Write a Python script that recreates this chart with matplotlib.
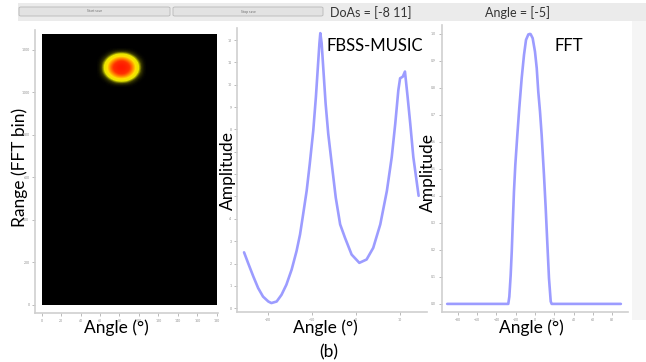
import numpy as np
import matplotlib
matplotlib.use("Agg")
import matplotlib.pyplot as plt
from matplotlib.colors import LinearSegmentedColormap
from matplotlib.patches import Rectangle, FancyBboxPatch

plt.rcParams['font.family'] = ['Lato', 'DejaVu Sans']

# --- data ---
doas = [-8, 11]
fft_angle_est = [-5]

# range-angle map: one target, coarse power grid around it
blob_angle = 82        # deg (0..180 axis)
blob_range = 1114      # FFT bin
blob_cell_angle = 5.5
blob_cell_range = 20
blob_power = [
    [0, 0, 0, 0, 0, 0, 0, 0, 0],
    [0, 0, .08, .24, .30, .24, .08, 0, 0],
    [0, .08, .38, .64, .72, .64, .38, .08, 0],
    [0, .24, .64, .84, .93, .84, .64, .24, 0],
    [0, .30, .72, .93, 1.0, .93, .72, .30, 0],
    [0, .24, .64, .84, .93, .84, .64, .24, 0],
    [0, .08, .38, .64, .72, .64, .38, .08, 0],
    [0, 0, .08, .24, .30, .24, .08, 0, 0],
    [0, 0, 0, 0, 0, 0, 0, 0, 0],
]
map_angle_ticks = list(range(0, 181, 20))
map_range_ticks = list(range(0, 1201, 200))

# FBSS-MUSIC pseudo spectrum
music_angle = [-25.4, -24.5, -23.3, -22.2, -21.1, -19.9, -19.2, -18.0, -16.9, -15.8,
               -14.6, -13.5, -12.7, -12.0, -11.2, -10.5, -9.7, -9.1, -8.7, -8.3,
               -8.1, -7.8, -7.4, -6.9, -6.3, -5.5, -4.6, -3.6, -2.5, -1.0,
               0.75, 2.4, 3.9, 5.5, 7.0, 8.1, 8.9, 9.6, 10.0, 10.6,
               11.1, 11.7, 12.3, 13.0, 14.2]
music_amp = [2.50, 2.03, 1.42, 0.90, 0.52, 0.30, 0.23, 0.30, 0.60, 1.05,
             1.73, 2.55, 3.30, 4.20, 5.25, 6.45, 7.95, 9.46, 10.66, 11.86,
             12.31, 11.86, 10.66, 9.16, 7.80, 6.45, 4.95, 3.75, 3.15, 2.40,
             2.03, 2.18, 2.70, 3.75, 5.25, 6.76, 8.26, 9.76, 10.29, 10.36,
             10.59, 9.46, 8.26, 6.76, 5.03]
music_angle_ticks = [-20, -10, 0, 10]
music_amp_ticks = list(range(0, 13))

# FFT beam
fft_angle = [-91, -27.7, -26.6, -25.2, -24.1, -23.1, -21.8, -20.4, -18.3, -16.3,
             -13.8, -11.4, -9.3, -6.9, -5.2, -4.5, -2.4, 0.0, 1.8, 3.4,
             5.2, 6.9, 9.3, 11.1, 12.7, 14.5, 16.3, 17.3, 89]
fft_amp = [0, 0, 0.027, 0.107, 0.194, 0.293, 0.416, 0.515, 0.626, 0.725,
           0.836, 0.922, 0.978, 0.998, 1.0, 0.999, 0.984, 0.934, 0.873, 0.786,
           0.712, 0.626, 0.478, 0.354, 0.231, 0.095, 0.009, 0, 0]
fft_angle_ticks = list(range(-80, 81, 20))
fft_amp_ticks = [round(0.1 * i, 1) for i in range(11)]

W, H = 646, 362
fig = plt.figure(figsize=(W / 100, H / 100), dpi=100)
fig.patch.set_facecolor('white')


def px_axes(x0, y0, x1, y1):
    # pixel box (top-left origin) -> figure axes
    return fig.add_axes([x0 / W, 1 - y1 / H, (x1 - x0) / W, (y1 - y0) / H])


def style(ax):
    for s in ['top', 'right']:
        ax.spines[s].set_visible(False)
    for s in ['left', 'bottom']:
        ax.spines[s].set_color('#cfcfcf')
        ax.spines[s].set_linewidth(1.2)
    ax.tick_params(length=2.5, width=0.6, color='#b0b0b0', labelsize=2.5,
                   labelcolor='#909090', pad=1.5)
    ax.set_facecolor('white')


# top control strip
fig.patches.append(Rectangle((18 / W, 1 - 21 / H), (W - 18) / W, 18 / H,
                             transform=fig.transFigure, facecolor='#ebebeb',
                             edgecolor='none', zorder=0))
for x0, x1, lab in [(19, 170, 'Start save'), (173, 323, 'Stop save')]:
    fig.patches.append(FancyBboxPatch((x0 / W, 1 - 16 / H), (x1 - x0) / W, 9 / H,
                                      boxstyle='round,pad=0,rounding_size=0.003',
                                      transform=fig.transFigure, facecolor='#e2e2e2',
                                      edgecolor='#b8b8b8', linewidth=0.6))
    fig.text((x0 + x1) / 2 / W, 1 - 11.5 / H, lab, fontsize=2.5, color='#707070',
             ha='center', va='center')
fig.text(330 / W, 1 - 13 / H, 'DoAs = [%d %d]' % (doas[0], doas[1]), fontsize=9,
         color='#333333', va='center')
fig.text(485 / W, 1 - 13 / H, 'Angle = [%d]' % fft_angle_est[0], fontsize=9,
         color='#333333', va='center')
fig.patches.append(Rectangle((632 / W, 1 - 320 / H), 14 / W, 299 / H,
                             transform=fig.transFigure, facecolor='#f5f5f5',
                             edgecolor='none', zorder=0))

# panel 1: range-angle map
cmap = LinearSegmentedColormap.from_list(
    'blob', [(0, 'black'), (0.1, '#3a3a00'), (0.25, '#e6e600'), (0.45, '#ffe000'),
             (0.62, '#ff9000'), (0.8, '#ff3000'), (1, '#ff1000')])
ax1 = px_axes(35, 30, 218, 313)
style(ax1)
ax1.add_patch(Rectangle((0, 0), 180, 1275, facecolor='black', edgecolor='none'))
bp = np.array(blob_power)
n_r, n_a = bp.shape
ax1.imshow(bp, cmap=cmap, vmin=0, vmax=1, interpolation='bicubic', origin='lower',
           extent=[blob_angle - n_a / 2 * blob_cell_angle, blob_angle + n_a / 2 * blob_cell_angle,
                   blob_range - n_r / 2 * blob_cell_range, blob_range + n_r / 2 * blob_cell_range],
           aspect='auto', zorder=2)
ax1.set_xlim(-6.9, 181.3)
ax1.set_ylim(-38, 1294)
ax1.set_xticks(map_angle_ticks)
ax1.set_yticks(map_range_ticks)

line_kw = dict(color='#9c9cff', lw=1.9, solid_joinstyle='round', solid_capstyle='round')

# panel 2: FBSS-MUSIC
ax2 = px_axes(237, 28, 427, 312)
style(ax2)
ax2.plot(music_angle, music_amp, **line_kw)
ax2.set_xlim(-27, 16.1)
ax2.set_ylim(-0.17, 12.54)
ax2.set_xticks(music_angle_ticks)
ax2.set_yticks(music_amp_ticks)

# panel 3: FFT
ax3 = px_axes(441.7, 25, 628, 312)
style(ax3)
ax3.plot(fft_angle, fft_amp, **line_kw)
ax3.set_xlim(-96.7, 96.4)
ax3.set_ylim(-0.03, 1.033)
ax3.set_xticks(fft_angle_ticks)
ax3.set_yticks(fft_amp_ticks)

# annotations (pasted on top of the screenshot)
lab = dict(fontsize=12.5, color='black')
fig.text(20 / W, 1 - 167 / H, 'Range (FFT bin)', rotation=90, ha='center', va='center', **lab)
fig.text(228 / W, 1 - 170 / H, 'Amplitude', rotation=90, ha='center', va='center', **lab)
fig.text(428 / W, 1 - 172 / H, 'Amplitude', rotation=90, ha='center', va='center', **lab)
for xc in [116, 325, 531]:
    fig.text(xc / W, 1 - 328 / H, 'Angle (°)', ha='center', va='center', **lab)
fig.text(329 / W, 1 - 352 / H, '(b)', ha='center', va='center', **lab)
fig.text(326 / W, 1 - 46 / H, 'FBSS-MUSIC', ha='left', va='center', fontsize=12, color='black')
fig.text(555 / W, 1 - 46 / H, 'FFT', ha='left', va='center', fontsize=12, color='black')

fig.savefig('out.png', dpi=100)
